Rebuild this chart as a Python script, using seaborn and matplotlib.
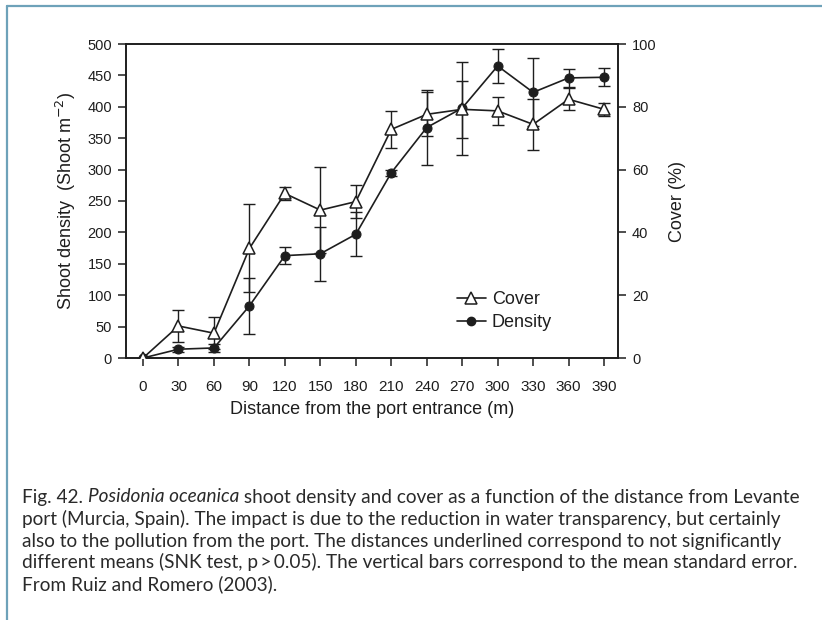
import matplotlib
matplotlib.use("Agg")
import matplotlib.pyplot as plt
import seaborn as sns
import numpy as np
from matplotlib.lines import Line2D

# ---------------- data ----------------
distance = [0, 30, 60, 90, 120, 150, 180, 210, 240, 270, 300, 330, 360, 390]
density = [0, 14, 16, 83, 163, 166, 197, 295, 367, 398, 465, 423, 446, 447]
density_err = [0, 4, 6, 45, 13, 43, 35, 5, 60, 74, 27, 54, 14, 14]
cover = [0, 10.2, 7.9, 34.9, 52.4, 47.1, 49.8, 72.8, 77.6, 79.2, 78.7, 74.4, 82.4, 79.2]
cover_err = [0, 5.2, 5.0, 14.0, 2.0, 13.8, 5.2, 6.0, 7.0, 9.0, 4.5, 8.0, 3.5, 2.0]
left_ticks = [0, 50, 100, 150, 200, 250, 300, 350, 400, 450, 500]
right_ticks = [0, 20, 40, 60, 80, 100]

caption_lines = [
    "port (Murcia, Spain). The impact is due to the reduction in water transparency, but certainly",
    "also to the pollution from the port. The distances underlined correspond to not significantly",
    "different means (SNK test, p\u2009>\u20090.05). The vertical bars correspond to the mean standard error.",
    "From Ruiz and Romero (2003).",
]
caption_first = ["Fig. 42. ", "Posidonia oceanica", " shoot density and cover as a function of the distance from Levante"]

# ---------------- style ----------------
sns.set_style("ticks")
plt.rcParams['font.family'] = ['Liberation Sans', 'DejaVu Sans']
INK = "#1e1e1e"

W, H = 822, 620
fig = plt.figure(figsize=(W / 100, H / 100), dpi=100)
fig.patch.set_facecolor("white")

ax_l, ax_r, ax_t, ax_b = 126, 618, 44, 358
ax = fig.add_axes([ax_l / W, 1 - ax_b / H, (ax_r - ax_l) / W, (ax_b - ax_t) / H])
ax2 = ax.twinx()

# density (left axis)
ax.errorbar(distance, density, yerr=density_err, fmt='none', ecolor=INK,
            elinewidth=1.0, capsize=4, capthick=1.0, zorder=2)
sns.lineplot(x=distance, y=density, ax=ax, color=INK, linewidth=1.2,
             marker='o', markersize=6.5, markerfacecolor=INK, markeredgecolor=INK,
             legend=False, zorder=3)

# cover (right axis)
ax2.errorbar(distance, cover, yerr=cover_err, fmt='none', ecolor=INK,
             elinewidth=1.0, capsize=4, capthick=1.0, zorder=2)
sns.lineplot(x=distance, y=cover, ax=ax2, color=INK, linewidth=1.2,
             marker='^', markersize=9, markerfacecolor='white', markeredgecolor=INK,
             markeredgewidth=1.1, legend=False, zorder=3)

ax.set_xlim(-14.4, 401.8)
ax.set_ylim(0, 500)
ax2.set_ylim(0, 100)
ax.set_xticks(distance)
ax.set_xticklabels([str(d) for d in distance])
ax.set_yticks(left_ticks)
ax2.set_yticks(right_ticks)

for a in (ax, ax2):
    for s in a.spines.values():
        s.set_visible(True)
        s.set_color(INK)
        s.set_linewidth(1.2)
    a.tick_params(direction='out', length=6, width=1.1, colors=INK,
                  labelsize=10.5, labelcolor=INK, pad=4)
ax.tick_params(axis='x', pad=10, labelsize=11)

ax.set_xlabel("Distance from the port entrance (m)", fontsize=13, color=INK, labelpad=5)
ax.set_ylabel("Shoot density  (Shoot m$^{-2}$)", fontsize=13, color=INK, labelpad=7)
ax2.set_ylabel("Cover (%)", fontsize=13, color=INK, labelpad=9)

h_cover = Line2D([], [], color=INK, lw=1.2, marker='^', ms=8, mfc='white', mec=INK, mew=1.1)
h_dens = Line2D([], [], color=INK, lw=1.2, marker='o', ms=6, mfc=INK, mec=INK)
ax2.legend([h_cover, h_dens], ["Cover", "Density"], loc='upper left',
           bbox_to_anchor=(0.672, 0.212), frameon=False, fontsize=13,
           handlelength=1.6, handletextpad=0.35, labelspacing=0.3,
           borderpad=0, borderaxespad=0, labelcolor=INK)

# ---------------- frame lines ----------------
frame_col = "#6ea2b9"
fig.add_artist(Line2D([7 / W, 7 / W], [0, 1 - 6 / H], color=frame_col, lw=1.6,
                      transform=fig.transFigure))
fig.add_artist(Line2D([7 / W, 1], [1 - 6 / H, 1 - 6 / H], color=frame_col, lw=1.6,
                      transform=fig.transFigure))

# ---------------- caption ----------------
cap_fonts = ['Lato', 'DejaVu Sans']
renderer = fig.canvas.get_renderer()
x0_px, target_right = 22, 803
line_y = [497, 519, 541, 562, 584]

def draw_line1(fs):
    arts = []
    x = x0_px
    for i, piece in enumerate(caption_first):
        t = fig.text(x / W, 1 - line_y[0] / H, piece, fontsize=fs, family=cap_fonts,
                     style='italic' if i == 1 else 'normal', color="#2a2a2a",
                     va='center', ha='left')
        bb = t.get_window_extent(renderer=renderer)
        x = bb.x1
        arts.append(t)
    return arts, x

fs = 11.5
arts, xr = draw_line1(fs)
fs = fs * (target_right - x0_px) / (xr - x0_px)
for a in arts:
    a.remove()
arts, xr = draw_line1(fs)

for i, line in enumerate(caption_lines):
    fig.text(x0_px / W, 1 - line_y[i + 1] / H, line, fontsize=fs, family=cap_fonts,
             color="#2a2a2a", va='center', ha='left')

fig.savefig("out.png", dpi=100, facecolor="white")
